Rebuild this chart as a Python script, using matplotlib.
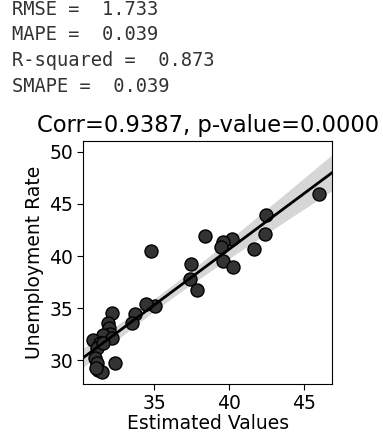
import numpy as np
import matplotlib.pyplot as plt

est = [46.02, 42.44, 42.38, 41.64, 40.18, 39.58, 39.47, 39.58, 40.25, 38.38,
       37.49, 37.40, 37.87, 34.82, 35.05, 34.49, 33.71, 33.51,
       32.22, 31.95, 32.02, 32.07, 31.58, 32.18, 30.96, 31.40, 31.18,
       31.07, 31.18, 31.29, 31.51, 31.13, 32.40, 31.62]
actual = [45.96, 43.94, 42.08, 40.64, 41.60, 41.38, 40.90, 39.52, 38.90, 41.92,
          39.20, 37.76, 36.76, 40.48, 35.19, 35.35, 34.39, 33.59,
          34.49, 33.59, 33.05, 32.56, 32.40, 32.08, 31.92, 31.60, 31.12,
          30.16, 29.68, 29.04, 28.88, 29.20, 29.68, 31.60]

stats_lines = ["RMSE =  1.733", "MAPE =  0.039", "R-squared =  0.873", "SMAPE =  0.039"]
title = "Corr=0.9387, p-value=0.0000"

x = np.array(est)
y = np.array(actual)

fig = plt.figure(figsize=(3.83, 4.36), dpi=100)
ax = fig.add_axes([0.217, 0.119, 0.65, 0.558])

for i, s in enumerate(stats_lines):
    fig.text(12 / 383, 1 - (15 + 25.5 * i) / 436, s, family='DejaVu Sans Mono',
             fontsize=13.5, color='#333333', va='baseline', ha='left')

ax.scatter(x, y, s=88, facecolor='#333333', edgecolor='black', linewidth=1, zorder=3)

# linear fit with 95% confidence band
n = len(x)
b, a = np.polyfit(x, y, 1)
xs = np.linspace(30.27, 46.87, 100)
ys = a + b * xs
resid = y - (a + b * x)
s_err = np.sqrt(np.sum(resid ** 2) / (n - 2))
t = 2.037
ci = t * s_err * np.sqrt(1 / n + (xs - x.mean()) ** 2 / np.sum((x - x.mean()) ** 2))
ax.fill_between(xs, ys - ci, ys + ci, color='#cccccc', alpha=0.8, lw=0, zorder=1)
ax.plot(xs, ys, color='black', lw=2, zorder=4)

ax.set_xlim(30.27, 46.87)
ax.set_ylim(27.7, 51.06)
ax.set_xticks([35, 40, 45])
ax.set_yticks([30, 35, 40, 45, 50])
ax.tick_params(labelsize=13.5, length=4, pad=3)
ax.set_xlabel("Estimated Values", fontsize=13.5, labelpad=1)
ax.set_ylabel("Unemployment Rate", fontsize=13.5)
ax.set_title(title, fontsize=16.3, pad=6)

fig.savefig("out.png", dpi=100)
